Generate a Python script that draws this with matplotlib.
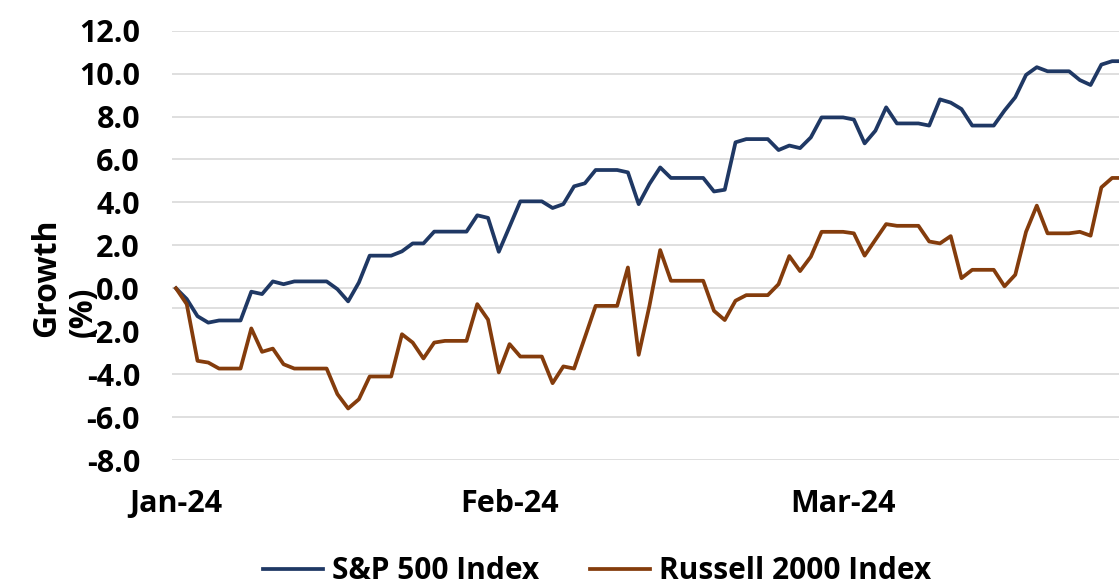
import matplotlib
matplotlib.use("Agg")
import matplotlib.pyplot as plt
import pandas as pd

# - Growth of S&P 500 vs Russell 2000, Q1 2024 - #

dates = pd.date_range("2024-01-01", "2024-03-29", freq="D")
label_idx = [0, 31, 62]

sp500 = [0.00, -0.50, -1.30, -1.60, -1.50, -1.50, -1.50, -0.16, -0.27, 0.32,
         0.19, 0.32, 0.32, 0.32, 0.32, -0.04, -0.61, 0.27, 1.52, 1.52,
         1.52, 1.72, 2.09, 2.09, 2.64, 2.64, 2.64, 2.64, 3.40, 3.28,
         1.70, 2.87, 4.05, 4.05, 4.05, 3.74, 3.92, 4.75, 4.89, 5.51,
         5.51, 5.51, 5.40, 3.92, 4.86, 5.63, 5.14, 5.14, 5.14, 5.14,
         4.51, 4.59, 6.80, 6.95, 6.95, 6.95, 6.44, 6.65, 6.53, 7.03,
         7.96, 7.96, 7.96, 7.86, 6.75, 7.34, 8.43, 7.68, 7.68, 7.68,
         7.58, 8.80, 8.65, 8.35, 7.58, 7.58, 7.58, 8.28, 8.90, 9.94,
         10.30, 10.11, 10.11, 10.11, 9.70, 9.47, 10.42, 10.58, 10.58]

russell = [0.00, -0.74, -3.38, -3.46, -3.74, -3.74, -3.74, -1.87, -2.96, -2.81,
           -3.54, -3.74, -3.74, -3.74, -3.74, -4.93, -5.60, -5.17, -4.11, -4.11,
           -4.11, -2.14, -2.53, -3.27, -2.53, -2.45, -2.45, -2.45, -0.74, -1.46,
           -3.92, -2.60, -3.18, -3.18, -3.18, -4.42, -3.64, -3.74, -2.29, -0.82,
           -0.82, -0.82, 0.97, -3.10, -0.82, 1.78, 0.35, 0.35, 0.35, 0.35,
           -1.05, -1.48, -0.58, -0.32, -0.32, -0.32, 0.19, 1.50, 0.80, 1.47,
           2.63, 2.63, 2.63, 2.56, 1.52, 2.26, 2.99, 2.91, 2.91, 2.91,
           2.18, 2.09, 2.43, 0.47, 0.86, 0.86, 0.86, 0.09, 0.63, 2.63,
           3.85, 2.56, 2.56, 2.56, 2.63, 2.45, 4.70, 5.14, 5.14]

y_ticks = [12, 10, 8, 6, 4, 2, 0, -2, -4, -6, -8]

##############################################################################

plt.rcParams['font.family'] = ['Open Sans', 'DejaVu Sans']
plt.rcParams['font.weight'] = 'bold'

fig = plt.figure(figsize=(11.19, 5.85), dpi=100)
ax = fig.add_axes([172/1119, 125/585, 1 - 172/1119, (460 - 30.7)/585])

x = list(range(len(dates)))

# gridlines (the original has one slipped off the -2 level)
for lev in [12, 10, 8, 6, 4, 2, 0, -0.94, -4, -6, -8]:
    ax.axhline(lev, color="#D9D9D9", linewidth=1.2, zorder=0)

ax.plot(x, sp500, color="#1F3864", linewidth=2.7, label="S&P 500 Index")
ax.plot(x, russell, color="#843C0C", linewidth=2.7, label="Russell 2000 Index")

ax.set_xlim(-0.37, 87.64)
ax.set_ylim(-8, 12)
ax.set_yticks(y_ticks)
ax.set_yticklabels([f"{v:.1f}" for v in y_ticks])
ax.set_xticks(label_idx)
ax.set_xticklabels([dates[i].strftime("%b-%y") for i in label_idx])
ax.tick_params(axis="both", length=0, labelsize=22)
ax.tick_params(axis="y", pad=23)
ax.tick_params(axis="x", pad=21)
for s in ax.spines.values():
    s.set_visible(False)

fig.text(65/1119, 1 - 337/585, "Growth\n(%)", rotation=90, ha="center", va="bottom",
         multialignment="left", fontsize=23, fontweight="bold", linespacing=1.15)

fig.legend(loc="center", bbox_to_anchor=(597/1119, 14/585), ncol=2, frameon=False,
           fontsize=21.5, handlelength=2.0, handletextpad=0.3, columnspacing=1.7)

fig.savefig("out.png", dpi=100)
